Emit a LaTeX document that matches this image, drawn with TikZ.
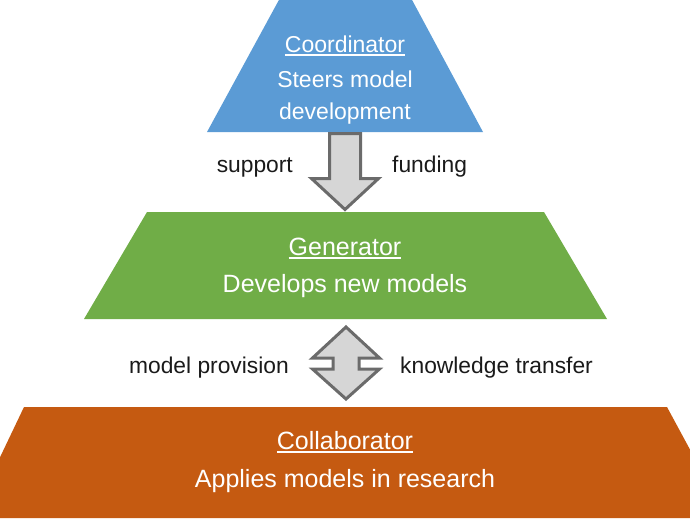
\documentclass[tikz,border=0pt]{standalone}
\usepackage{fontspec}
\setmainfont{Liberation Sans}
\usetikzlibrary{calc}
\definecolor{cblue}{HTML}{5B9BD5}
\definecolor{cgreen}{HTML}{70AD47}
\definecolor{corange}{HTML}{C55A11}
\definecolor{afill}{HTML}{D6D6D6}
\definecolor{aline}{HTML}{6B6B6B}
\definecolor{ltext}{HTML}{1A1A1A}
\newcommand{\ulinetext}[1]{{\setbox0\hbox{#1}\rlap{\rule[-4pt]{\wd0}{1.6pt}}\box0}}
\begin{document}
\begin{tikzpicture}[x=1pt,y=-1pt,
  blockarrow/.style={fill=afill,draw=aline,line width=3pt,line join=miter},
  wtext/.style={text=white,inner sep=0pt,anchor=base},
  smalltext/.style={wtext,font=\fontsize{23}{28}\selectfont},
  bigtext/.style={wtext,font=\fontsize{25}{30}\selectfont},
  lbl/.style={text=ltext,inner sep=0pt,font=\fontsize{22.8}{27}\selectfont}]
\useasboundingbox (0,0) rectangle (690,520);
\begin{scope}
\clip (0,0) rectangle (690,520);
% tiers
\fill[cblue] (280,-2) -- (411,-2) -- (483,132) -- (207,132) -- cycle;
\fill[cgreen] (147,212) -- (544,212) -- (607,319) -- (84,319) -- cycle;
\fill[corange] (24,407) -- (667,407) -- (727,518) -- (-29,518) -- cycle;
% anchor coordinates for the arrows
\coordinate (blueb) at (345,133.5);
\coordinate (greent) at (345,209.5);
\coordinate (greenb) at (346,327);
\coordinate (oranget) at (346,399);
% single down arrow
\draw[blockarrow] ($(blueb)+(-15.5,0)$) -- ($(blueb)+(15.5,0)$)
  -- ($(greent)+(15.5,-31)$) -- ($(greent)+(33.5,-31)$) -- (greent)
  -- ($(greent)+(-33.5,-31)$) -- ($(greent)+(-15.5,-31)$) -- cycle;
% double arrow
\draw[blockarrow] (greenb) -- ($(greenb)+(33.5,31)$) -- ($(greenb)+(13,31)$)
  -- ($(oranget)+(13,-30)$) -- ($(oranget)+(33.5,-30)$) -- (oranget)
  -- ($(oranget)+(-33.5,-30)$) -- ($(oranget)+(-13,-30)$)
  -- ($(greenb)+(-13,31)$) -- ($(greenb)+(-33.5,31)$) -- cycle;
\end{scope}
% texts
\node[smalltext] (coordT) at (345,52) {\ulinetext{Coordinator}};
\node[smalltext] (coordD1) at (345,87) {Steers model};
\node[smalltext] (coordD2) at (345,119) {development};
\node[bigtext] (genT) at (345,255) {\ulinetext{Generator}};
\node[bigtext] (genD) at (345,292) {Develops new models};
\node[bigtext] (colT) at (345,449) {\ulinetext{Collaborator}};
\node[bigtext] (colD) at (345,487) {Applies models in research};
% labels
\node[lbl,anchor=base east] (sup) at (293,172) {support};
\node[lbl,anchor=base west] (fund) at (392,172) {funding};
\node[lbl,anchor=base east] (mp) at (289,373) {model provision};
\node[lbl,anchor=base west] (kt) at (400,373) {knowledge transfer};
\end{tikzpicture}
\end{document}
